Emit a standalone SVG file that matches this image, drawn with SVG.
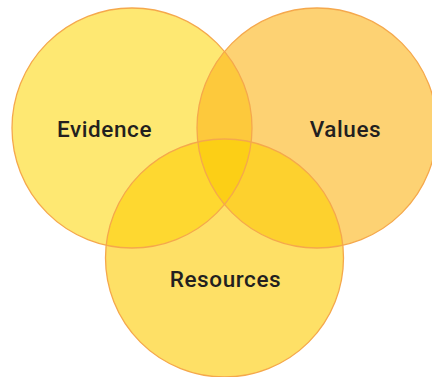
<svg xmlns="http://www.w3.org/2000/svg" xmlns:xlink="http://www.w3.org/1999/xlink" width="432" height="377" viewBox="0 0 432 377">
<style>
.ring{fill:none;stroke:#F5A84C;stroke-width:1.3}
.lbl{font-family:Roboto,"Liberation Sans",sans-serif;font-size:22.5px;font-weight:500;letter-spacing:0.6px;fill:#231F20;text-anchor:middle}
</style>
<defs>
<clipPath id="cE"><circle cx="132" cy="128" r="120"/></clipPath>
<clipPath id="cV"><circle cx="317" cy="128" r="120"/></clipPath>
<clipPath id="cR"><circle cx="224.5" cy="258" r="119"/></clipPath>
</defs>
<rect width="432" height="377" fill="#FFFFFF"/>
<g id="evidence">
<circle cx="132" cy="128" r="120" fill="#FEE872"/>
</g>
<g id="values">
<circle cx="317" cy="128" r="120" fill="#FDD273"/>
</g>
<g id="resources">
<circle cx="224.5" cy="258" r="119" fill="#FEE066"/>
</g>
<g id="overlaps">
<g clip-path="url(#cE)"><circle cx="317" cy="128" r="120" fill="#FDC93C"/></g>
<g clip-path="url(#cE)"><circle cx="224.5" cy="258" r="119" fill="#FED830"/></g>
<g clip-path="url(#cV)"><circle cx="224.5" cy="258" r="119" fill="#FDD12E"/></g>
<g clip-path="url(#cE)"><g clip-path="url(#cV)"><circle cx="224.5" cy="258" r="119" fill="#FCCF16"/></g></g>
</g>
<g id="outlines">
<circle class="ring" cx="132" cy="128" r="120"/>
<circle class="ring" cx="317" cy="128" r="120"/>
<circle class="ring" cx="224.5" cy="258" r="119"/>
</g>
<g id="labels">
<text class="lbl" x="104.5" y="137">Evidence</text>
<text class="lbl" x="345.5" y="137">Values</text>
<text class="lbl" x="225.5" y="287">Resources</text>
</g>
</svg>
